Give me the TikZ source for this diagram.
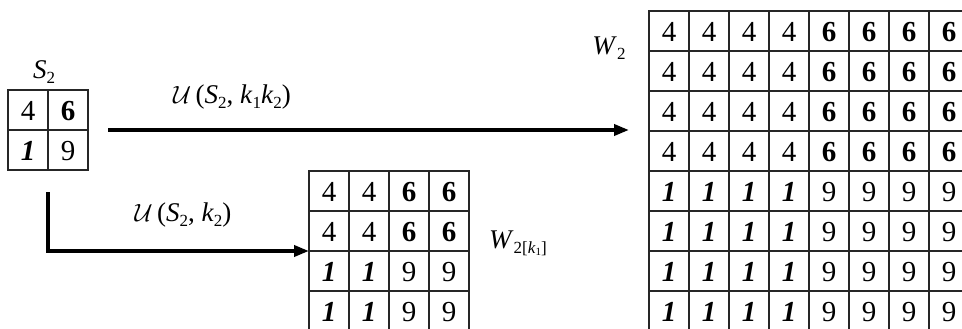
\documentclass[tikz,border=0pt]{standalone}
\usepackage{fontspec}
\setmainfont{Liberation Serif}
\usetikzlibrary{arrows.meta}
\newcommand{\cellfont}{\fontsize{29}{29}\selectfont}
\newcommand{\labfont}{\fontsize{27}{27}\selectfont}
\newcommand{\sbs}[1]{\raisebox{-0.4ex}{\fontsize{17}{17}\selectfont #1}}
\begin{document}
\begin{tikzpicture}[x=1pt,y=-1pt,
  gridline/.style={line width=1.4pt, black!85},
  frame/.style={draw, gridline, inner sep=0pt, outer sep=0pt},
  dfour/.style={font=\cellfont},
  dsix/.style={font=\cellfont\bfseries},
  done/.style={font=\cellfont\bfseries\itshape},
  dnine/.style={font=\cellfont},
  lab/.style={font=\labfont, inner sep=0pt},
  conn/.style={line width=3.6pt, -{Triangle[length=15pt,width=11pt]}}
]
\useasboundingbox (0,0) rectangle (962,329);
\clip (0,0) rectangle (962,329);
% S2 grid
\node[frame, minimum width=80pt, minimum height=80pt] (S) at (48,130) {};
\draw[gridline] (48,90) -- (48,170) (8,130) -- (88,130);
\node[dfour] (s11) at (28,111) {4};
\node[dsix]  (s12) at (68,111) {6};
\node[done]  (s21) at (28,151) {1};
\node[dnine] (s22) at (68,151) {9};
\node[lab] (Slab) at (44,72) {\textit{S}\sbs{2}};
% medium grid
\node[frame, minimum width=160pt, minimum height=160pt] (M) at (389,251) {};
\foreach \i in {1,2,3}{
  \draw[gridline] (309+40*\i,171) -- (309+40*\i,331);
  \draw[gridline] (309,171+40*\i) -- (469,171+40*\i);
}
\foreach \r in {1,...,4}{
  \foreach \c in {1,...,4}{
    \pgfmathtruncatemacro{\up}{\r<3 ? 1 : 0}
    \pgfmathtruncatemacro{\lf}{\c<3 ? 1 : 0}
    \ifnum\up=1
      \ifnum\lf=1 \node[dfour] (m\r\c) at (289+40*\c,152+40*\r) {4};
      \else \node[dsix] (m\r\c) at (289+40*\c,152+40*\r) {6}; \fi
    \else
      \ifnum\lf=1 \node[done] (m\r\c) at (289+40*\c,152+40*\r) {1};
      \else \node[dnine] (m\r\c) at (289+40*\c,152+40*\r) {9}; \fi
    \fi
  }
}
\node[lab] (Mlab) at (518,243) {\textit{W}\sbs{2[\textit{k}\raisebox{-0.3ex}{\fontsize{11}{11}\selectfont 1}]}};
% big grid
\node[frame, minimum width=320pt, minimum height=320pt] (W) at (809,171) {};
\foreach \i in {1,...,7}{
  \draw[gridline] (649+40*\i,11) -- (649+40*\i,331);
  \draw[gridline] (649,11+40*\i) -- (969,11+40*\i);
}
\foreach \r in {1,...,8}{
  \foreach \c in {1,...,8}{
    \pgfmathtruncatemacro{\up}{\r<5 ? 1 : 0}
    \pgfmathtruncatemacro{\lf}{\c<5 ? 1 : 0}
    \ifnum\up=1
      \ifnum\lf=1 \node[dfour] (w\r\c) at (629+40*\c,-8+40*\r) {4};
      \else \node[dsix] (w\r\c) at (629+40*\c,-8+40*\r) {6}; \fi
    \else
      \ifnum\lf=1 \node[done] (w\r\c) at (629+40*\c,-8+40*\r) {1};
      \else \node[dnine] (w\r\c) at (629+40*\c,-8+40*\r) {9}; \fi
    \fi
  }
}
\node[lab] (Wlab) at (609,48) {\textit{W}\sbs{2}};
% connectors
\coordinate (a1) at ([xshift=20pt]S.east);
\coordinate (a2) at ([xshift=-20pt]W.west |- S.east);
\draw[conn] (a1) -- (a2);
\coordinate (b1) at ([yshift=-22pt]S.south);
\draw[conn] (b1) |- (M.west);
% labels
\node[lab] (L1) at (232,97) {$\mathcal{U}$\,(\textit{S}\sbs{2}, \textit{k}\sbs{1}\textit{k}\sbs{2})};
\node[lab] (L2) at (183,215) {$\mathcal{U}$\,(\textit{S}\sbs{2}, \textit{k}\sbs{2})};
\end{tikzpicture}
\end{document}
